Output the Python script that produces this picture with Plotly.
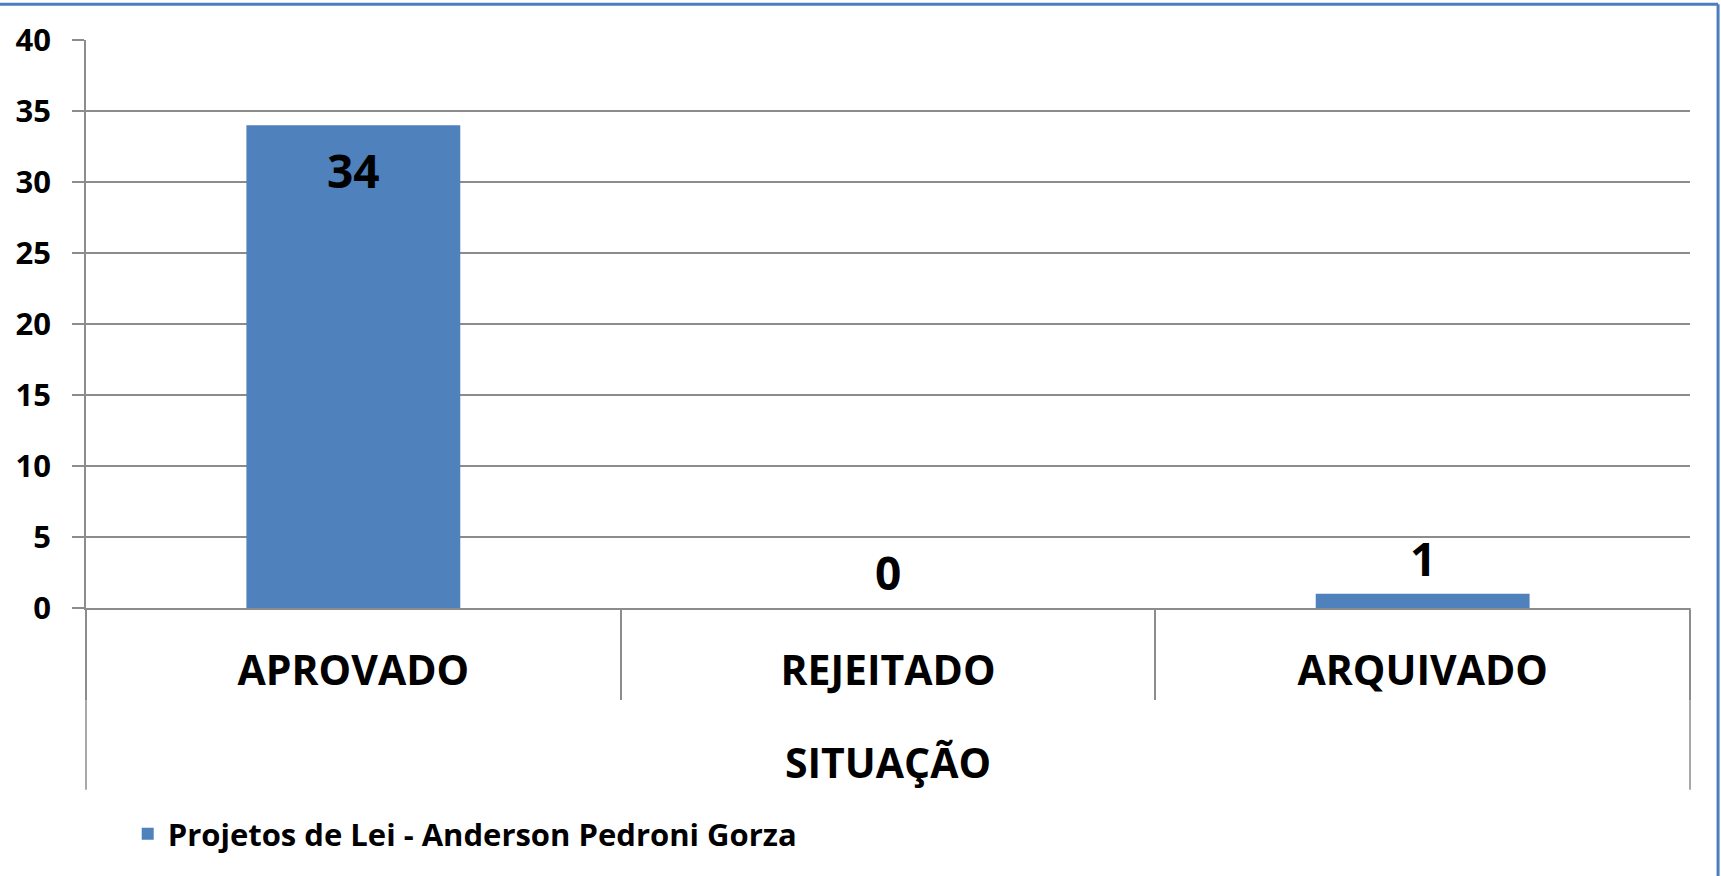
import plotly.graph_objects as go

# data
situacoes = ["APROVADO", "REJEITADO", "ARQUIVADO"]
quantidades = [34, 0, 1]
serie_nome = "Projetos de Lei - Anderson Pedroni Gorza"
titulo_x = "SITUAÇÃO"
y_ticks = [0, 5, 10, 15, 20, 25, 30, 35, 40]

BLUE = "#4f81bd"
GRAY = "#8c8c8c"
FONT = "Open Sans"

label_font = dict(family=FONT, size=46, color="black", weight="bold")

fig = go.Figure()
fig.add_trace(go.Bar(
    x=situacoes, y=quantidades, name=serie_nome,
    marker=dict(color=BLUE, line=dict(width=0)),
    showlegend=True,
))

# data labels: inside the top of a tall bar, just above a short one
for cat, val in zip(situacoes, quantidades):
    fig.add_annotation(x=cat, y=val, text=str(val), showarrow=False,
                       yanchor="middle", yshift=-45 if val > 5 else 36,
                       font=label_font)

fig.update_layout(
    width=1721, height=876,
    margin=dict(l=86, r=31, t=40, b=268),
    plot_bgcolor="white", paper_bgcolor="white",
    bargap=0.6,
    showlegend=True,
    legend=dict(orientation="h", x=0.026, y=-0.398, xanchor="left", yanchor="middle",
                font=dict(family=FONT, size=31, color="black", weight="bold")),
    font=dict(family=FONT, color="black"),
)

fig.update_yaxes(
    range=[0, 40], tickvals=y_ticks,
    showgrid=True, gridcolor=GRAY, gridwidth=1.5,
    showline=True, linecolor=GRAY, linewidth=1.5,
    ticks="outside", ticklen=12, tickcolor=GRAY, tickwidth=1.5,
    ticklabelstandoff=15,
    tickfont=dict(family=FONT, size=31, color="black", weight="bold"),
    zeroline=False,
)

fig.update_xaxes(
    type="category",
    showline=True, linecolor=GRAY, linewidth=1.5,
    ticks="outside", tickson="boundaries", ticklen=90, tickcolor=GRAY, tickwidth=1.5,
    ticklabelstandoff=26,
    tickfont=dict(family=FONT, size=41, color="black", weight="bold"),
    title=dict(text=titulo_x, standoff=53,
               font=dict(family=FONT, size=41, color="black", weight="bold")),
)

# outer edges of the category box, running down past the group label
for xd in (0, 1):
    fig.add_shape(type="line", xref="x domain", yref="y domain",
                  x0=xd, x1=xd, y0=0, y1=-0.32, line=dict(color=GRAY, width=1.5))

# the blue frame of the original chart object (top and right edges)
fig.add_shape(type="line", xref="paper", yref="paper",
              x0=-0.06, x1=1.0175, y0=1.063, y1=1.063, line=dict(color="#4a7ebf", width=3))
fig.add_shape(type="line", xref="paper", yref="paper",
              x0=1.0175, x1=1.0175, y0=1.063, y1=-0.5, line=dict(color="#4a7ebf", width=3))

# drop the default page margin so the figure sits at the window's corner
fig.write_html("out.html", config={"displayModeBar": False},
               post_script="document.body.style.margin='0';")
